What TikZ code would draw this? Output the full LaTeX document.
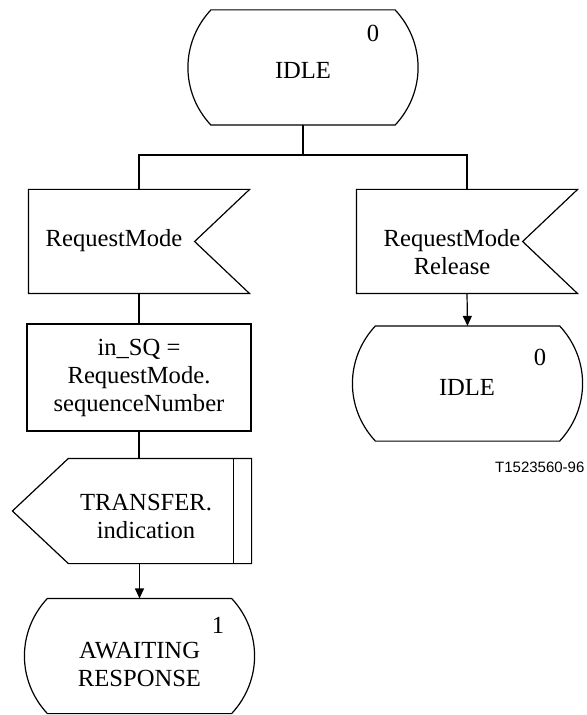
\documentclass[tikz,border=0pt]{standalone}
\usepackage{fontspec}
\setmainfont{Liberation Serif}
\newfontfamily\figfont{Liberation Sans}
\usetikzlibrary{arrows.meta,calc}

\begin{document}
\begin{tikzpicture}[x=0.5pt,y=-0.5pt,>={Triangle[length=5pt,width=4.5pt]},line width=0.6pt,font=\fontsize{12.3}{14}\selectfont]
\tikzstyle{box}=[inner sep=0pt,align=center]
\tikzstyle{state}=[box,minimum width=91.5pt,minimum height=57pt]
\tikzstyle{inp}=[box,minimum width=110pt,minimum height=51.5pt]
\tikzstyle{outp}=[box,minimum width=119pt,minimum height=52pt]
\tikzstyle{task}=[box,draw,minimum width=112pt,minimum height=53.5pt]
\tikzstyle{txt}=[align=center]
\useasboundingbox (0,0) rectangle (586,715);

% start state
\node[state] (idle) at (303,67.5) {};
\node[txt] (idlet) at (303,70) {IDLE};
\node (idlen) at (373,33) {0};
\coordinate (fork) at (303,155);

% left branch
\node[inp] (in1) at (139,241.5) {};
\node[txt] (in1t) at (114,241) {RequestMode};
\node[task] (task) at (139,377.5) {in\_SQ =\\RequestMode.\\sequenceNumber};
\node[outp] (out) at (132,511) {};
\node[txt] (outt) at (146,516) {TRANSFER.\\indication};
\node[state] (wait) at (139.5,656) {};
\node[txt] (waitt) at (139.5,664) {AWAITING\\RESPONSE};
\node (waitn) at (218,625) {1};

% right branch
\node[inp] (in2) at (467,241.5) {};
\node[txt] (in2t) at (452,252) {RequestMode\\Release};
\node[state] (idle2) at (467.5,383.5) {};
\node[txt] (idle2t) at (467,387) {IDLE};
\node (idle2n) at (540,357) {0};

\node[font=\figfont\fontsize{7.5}{9}\selectfont,inner sep=0pt,anchor=east] (fig) at (585,467) {T1523560-96};

% outlines
\foreach \s in {idle,idle2,wait}
  \draw (\s.north west) -- (\s.north east) to[bend left=43] (\s.south east) -- (\s.south west) to[bend left=43] cycle;
\foreach \s in {in1,in2}
  \draw (\s.north west) -- (\s.north east) -- ([xshift=-27.5pt]\s.east) -- (\s.south east) -- (\s.south west) -- cycle;
\draw (out.north east) -- (out.south east) -- ([xshift=28pt]out.south west) -- (out.west) -- ([xshift=28pt]out.north west) -- cycle;
\draw ([xshift=-9pt]out.north east) -- ([xshift=-9pt]out.south east);

% connectors
\draw (idle.south) -- (fork);
\draw (in1.north) |- (fork) -| (in2.north);
\draw (in1.south) -- (task.north);
\draw (task.south) -- (task.south |- out.north);
\draw[->] (wait.north |- out.south) -- (wait.north);
\draw[->] (in2.south) -- (idle2.north);
\end{tikzpicture}
\end{document}
